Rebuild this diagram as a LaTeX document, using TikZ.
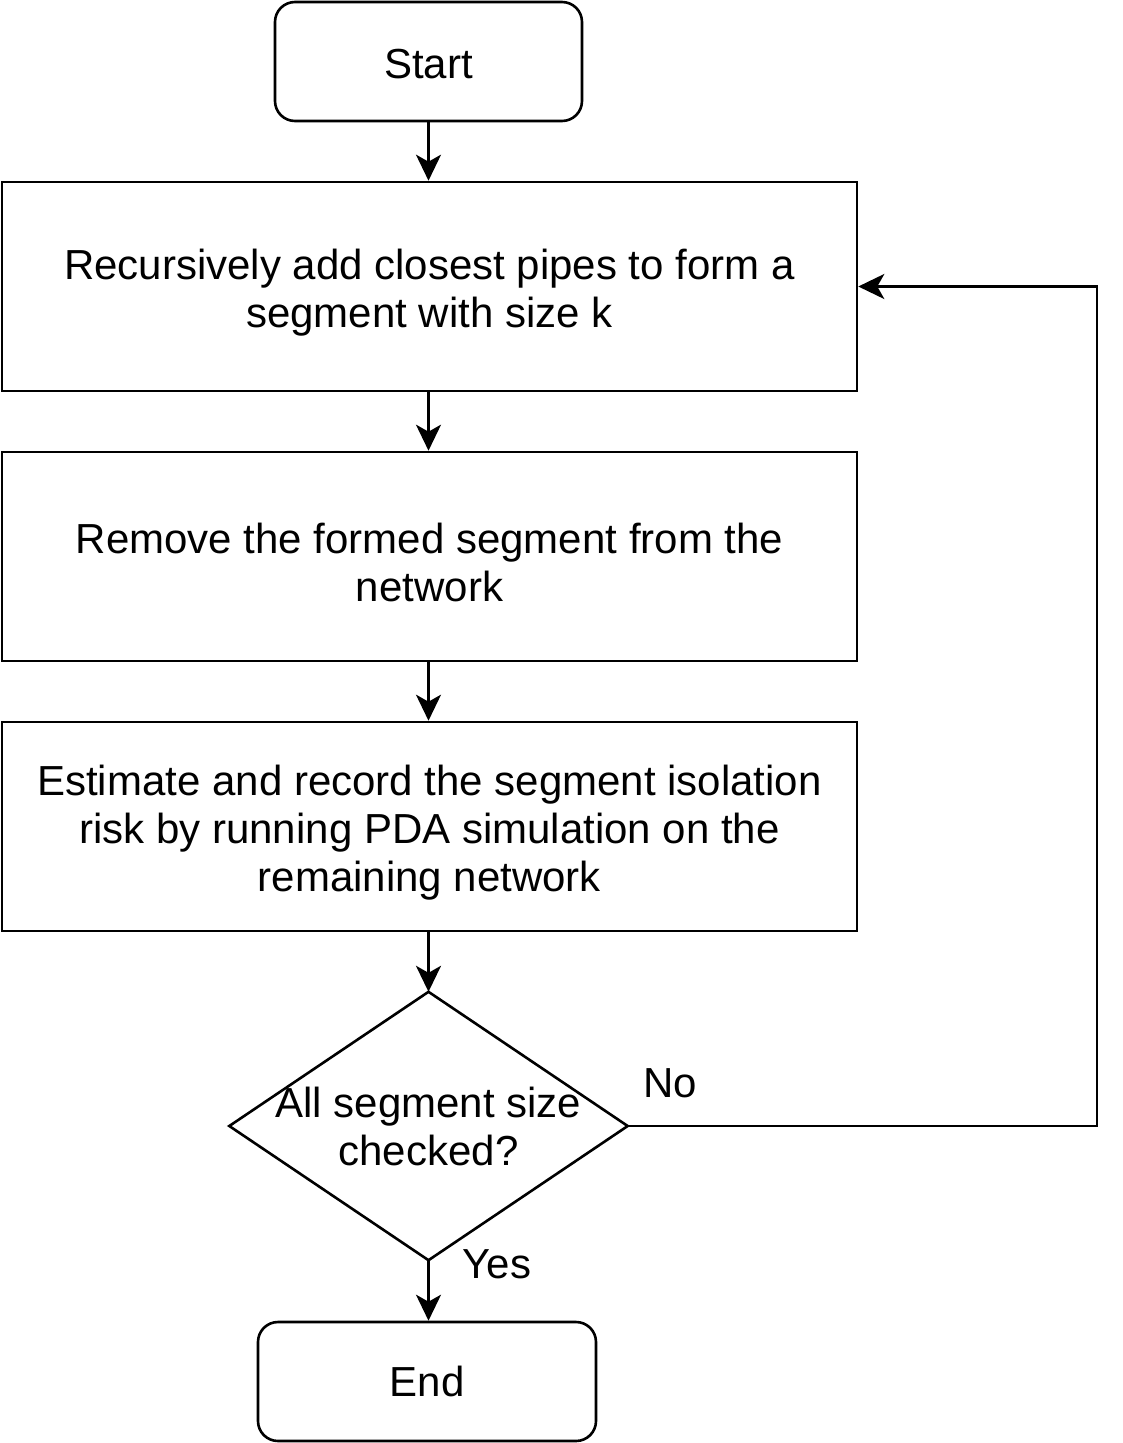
\documentclass[tikz,border=0pt]{standalone}
\usepackage{fontspec}
\setmainfont{Liberation Sans}
\usetikzlibrary{arrows.meta}
\newcommand{\topstrut}{\rule{0pt}{42pt}}
\begin{document}
\begin{tikzpicture}[x=1pt,y=-1pt,
  every node/.style={font=\fontsize{42}{48}\selectfont, align=center},
  procbox/.style={draw, line width=2.6pt, minimum width=855pt, minimum height=209pt, inner sep=0pt},
  termbox/.style={draw, line width=2.6pt, rounded corners=20pt, inner sep=0pt},
  conn/.style={line width=2.6pt, -{Stealth[length=26pt,width=25pt,inset=7pt]}},
  lbl/.style={inner sep=0pt}
]
\useasboundingbox (0,0) rectangle (1122,1443);
\node[termbox, minimum width=307pt, minimum height=119pt] (start) at (428.5,61.5) {\rule{0pt}{34pt}Start};
\node[procbox] (b1) at (429.5,286.5) {\topstrut Recursively add closest pipes to form a\\segment with size k};
\node[procbox] (b2) at (429.5,556.5) {\topstrut Remove the formed segment from the\\network};
\node[procbox] (b3) at (429.5,826.5) {\topstrut Estimate and record the segment isolation\\risk by running PDA simulation on the\\remaining network};
\node[minimum width=398pt, minimum height=268pt, inner sep=0pt] (dia) at (428.5,1126) {All segment size\\checked?};
\draw[line width=2.6pt, line join=miter] (dia.west) -- (dia.north) -- (dia.east) -- (dia.south) -- cycle;
\node[termbox, minimum width=338pt, minimum height=119pt] (end) at (427,1381.5) {End};
\coordinate (c1) at (1097,1126);
\coordinate (c2) at (1097,286.5);
\draw[conn] (start.south) -- (b1.north -| start.south);
\draw[conn] (b1.south -| start.south) -- (b2.north -| start.south);
\draw[conn] (b2.south -| start.south) -- (b3.north -| start.south);
\draw[conn] (b3.south -| dia.north) -- (dia.north);
\draw[conn] (dia.south) -- (end.north -| dia.south);
\draw[conn] (dia.east) -- (c1) -- (c2) -- (b1.east);
\node[lbl] (no) at (670,1083) {No};
\node[lbl] (yes) at (497,1264) {Yes};
\end{tikzpicture}
\end{document}
